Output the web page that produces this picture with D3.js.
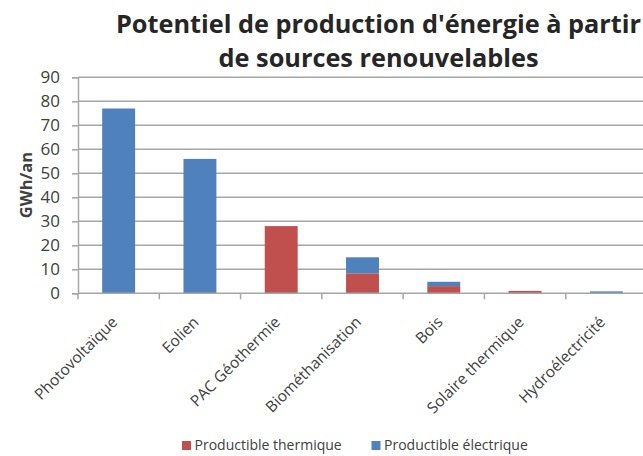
<!DOCTYPE html>
<html><head><meta charset="utf-8">
<script src="https://cdn.jsdelivr.net/npm/d3@7"></script>
<style>body{margin:0;background:#fff;overflow:hidden}</style>
</head><body>
<svg id="c" width="643" height="456"></svg>
<script>
const categories = ["Photovoltaïque","Eolien","PAC Géothermie","Biométhanisation","Bois","Solaire thermique","Hydroélectricité"];
const thermique = [0, 0, 28, 8.3, 3, 1, 0];
const electrique = [77, 56, 0, 6.7, 1.8, 0, 0.8];
const seriesNames = ["Productible thermique","Productible électrique"];
const yTicks = [0,10,20,30,40,50,60,70,80,90];
const titleLines = ["Potentiel de production d'énergie à partir","de sources renouvelables"];

(function(){
const svg = d3.select("#c");
const pLeft = 78, pRight = 647, pTop = 77.3, pBottom = 293.3;
const colors = ["#C0504D","#4F81BD"];
const font = "'Open Sans', sans-serif";

const x = d3.scaleBand().domain(categories).range([pLeft,pRight]).paddingInner(0.595).paddingOuter(0.2975);
const y = d3.scaleLinear().domain([0,90]).range([pBottom,pTop]);

// gridlines
svg.append("g").selectAll("line").data(yTicks.slice(1)).join("line")
  .attr("x1",pLeft).attr("x2",pRight).attr("y1",d=>y(d)).attr("y2",d=>y(d))
  .attr("stroke","#a6a6a6").attr("stroke-width",1.5);

// stacked bars
const data = categories.map((c,i)=>({c, t:thermique[i], e:electrique[i]}));
const stack = d3.stack().keys(["t","e"])(data);
svg.append("g").selectAll("g").data(stack).join("g").attr("fill",(d,i)=>colors[i])
  .selectAll("rect").data(d=>d).join("rect")
  .attr("x",d=>x(d.data.c)).attr("width",x.bandwidth())
  .attr("y",d=>y(d[1])).attr("height",d=>y(d[0])-y(d[1]));

// y axis
const ya = svg.append("g").attr("transform",`translate(${pLeft},0)`)
  .call(d3.axisLeft(y).tickValues(yTicks).tickSize(6).tickPadding(12));
ya.select(".domain").attr("stroke","#a6a6a6").attr("stroke-width",1.5);
ya.selectAll(".tick line").attr("stroke","#a6a6a6").attr("stroke-width",1.5);
ya.selectAll("text").attr("font-family",font).attr("font-size",17).attr("fill","#404040");

// x axis
const step = x.step();
const xa = svg.append("g").attr("transform",`translate(0,${pBottom})`);
xa.append("line").attr("x1",pLeft).attr("x2",pRight).attr("stroke","#a6a6a6").attr("stroke-width",1.5);
const bounds = d3.range(categories.length+1).map(i=>pLeft+i*step);
xa.selectAll("line.t").data(bounds).join("line").attr("class","t")
  .attr("x1",d=>d).attr("x2",d=>d).attr("y1",0).attr("y2",6)
  .attr("stroke","#a6a6a6").attr("stroke-width",1.5);
xa.selectAll("text").data(categories).join("text")
  .attr("transform",d=>`translate(${x(d)+x.bandwidth()/2-4},26) rotate(-45)`)
  .attr("text-anchor","end").attr("dy","0.35em")
  .attr("font-family",font).attr("font-size",15.5).attr("fill","#404040")
  .text(d=>d);

// y label
svg.append("text").attr("transform","translate(32,185) rotate(-90)")
  .attr("text-anchor","middle").attr("font-family",font).attr("font-weight","bold")
  .attr("font-size",16.5).attr("fill","#404040").text("GWh/an");

// title
svg.append("g").selectAll("text").data(titleLines).join("text")
  .attr("x",378.5).attr("y",(d,i)=>33+i*34).attr("text-anchor","middle")
  .attr("font-family",font).attr("font-weight","bold").attr("font-size",25.3).attr("fill","#262626")
  .text(d=>d);

// legend
const lg = svg.append("g");
const lx = [182,371.5];
seriesNames.forEach((n,i)=>{
  lg.append("rect").attr("x",lx[i]).attr("y",441).attr("width",9).attr("height",9).attr("fill",colors[i]);
  lg.append("text").attr("x",lx[i]+12.5).attr("y",450).attr("font-family",font).attr("font-size",14)
    .attr("fill","#404040").text(n);
});
})();
</script>
</body></html>
